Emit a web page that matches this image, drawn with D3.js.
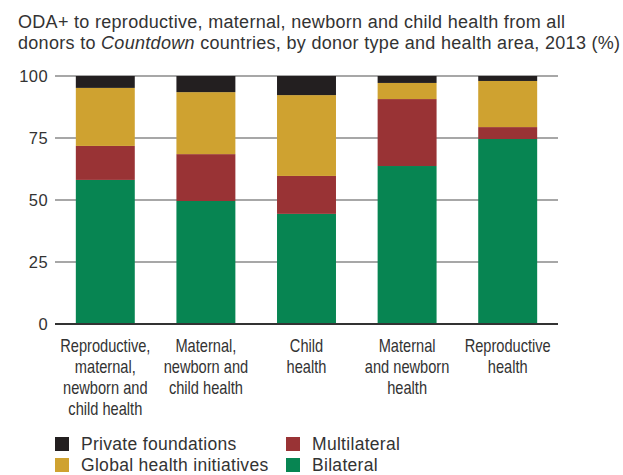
<!DOCTYPE html>
<html><head><meta charset="utf-8">
<script src="https://cdn.jsdelivr.net/npm/d3@7"></script>
<style>body{margin:0;background:#fff}svg{display:block}</style>
</head><body>
<svg id="c" width="623" height="475"></svg>
<script>
const categories = [
  ["Reproductive,","maternal,","newborn and","child health"],
  ["Maternal,","newborn and","child health"],
  ["Child","health"],
  ["Maternal","and newborn","health"],
  ["Reproductive","health"]
];
const bilateral = [58.1, 49.6, 44.4, 63.7, 74.6];
const multilateral = [13.7, 18.9, 15.3, 27.0, 4.8];
const globalHealth = [23.4, 25.0, 32.6, 6.5, 18.6];
const privateFound = [4.8, 6.5, 7.7, 2.8, 2.0];
const yTicks = [0, 25, 50, 75, 100];
const seriesNames = ["Bilateral","Multilateral","Global health initiatives","Private foundations"];
const seriesColors = ["#078552","#993335","#cfa230","#231f20"];

const svg = d3.select("#c");
const font = "'Liberation Sans', Arial, sans-serif";
const txt = "#333";

// title
const title = svg.append("text").attr("fill",txt).attr("font-family",font).attr("font-size",18).attr("letter-spacing",0.3);
title.append("tspan").attr("x",18).attr("y",28).text("ODA+ to reproductive, maternal, newborn and child health from all");
const t2 = title.append("tspan").attr("x",18).attr("y",49);
t2.append("tspan").text("donors to ");
t2.append("tspan").attr("font-style","italic").text("Countdown");
t2.append("tspan").text(" countries, by donor type and health area, 2013 (%)");

const x = d3.scaleBand().domain(d3.range(categories.length)).range([55,558]).paddingInner(0.414).paddingOuter(0.207);
const y = d3.scaleLinear().domain([0,100]).range([324,76]);

// grid
svg.append("g").selectAll("line").data(yTicks.filter(d=>d>0)).join("line")
  .attr("x1",55).attr("x2",558).attr("y1",d=>y(d)).attr("y2",d=>y(d))
  .attr("stroke","#8a8a8a").attr("stroke-width",1.5);

const rows = categories.map((c,i)=>({i, Bilateral:bilateral[i], Multilateral:multilateral[i], "Global health initiatives":globalHealth[i], "Private foundations":privateFound[i]}));
const stack = d3.stack().keys(seriesNames)(rows);
svg.append("g").selectAll("g").data(stack).join("g").attr("fill",(d,i)=>seriesColors[i])
  .selectAll("rect").data(d=>d).join("rect")
  .attr("x",d=>x(d.data.i)).attr("width",x.bandwidth())
  .attr("y",d=>y(Math.min(d[1],100))).attr("height",d=>y(d[0])-y(Math.min(d[1],100)));

// baseline
svg.append("line").attr("x1",55).attr("x2",558).attr("y1",y(0)).attr("y2",y(0)).attr("stroke","#333").attr("stroke-width",2.2);

// y labels
const ya = svg.append("g").attr("transform","translate(55,0)").call(d3.axisLeft(y).tickValues(yTicks).tickSize(0).tickPadding(7));
ya.select(".domain").remove();
ya.selectAll("text").attr("font-family",font).attr("font-size",16.5).attr("letter-spacing",0.4).attr("fill",txt);

// x labels (condensed look)
const xg = svg.append("g");
categories.forEach((lines,i)=>{
  lines.forEach((l,k)=>{
    const t = xg.append("text").attr("text-anchor","middle").attr("font-family",font).attr("font-size",18.5)
      .attr("fill",txt).attr("x",x(i)+x.bandwidth()/2).attr("y",352+k*21).text(l);
    const w = t.node().getComputedTextLength();
    t.attr("textLength",w*0.79).attr("lengthAdjust","spacingAndGlyphs");
  });
});

// legend
const legend = [
  {name:"Private foundations", col:3, px:55, py:437},
  {name:"Multilateral", col:1, px:286, py:437},
  {name:"Global health initiatives", col:2, px:55, py:458},
  {name:"Bilateral", col:0, px:286, py:458}
];
const lg = svg.append("g").selectAll("g").data(legend).join("g");
lg.append("rect").attr("x",d=>d.px).attr("y",d=>d.py).attr("width",14).attr("height",14).attr("fill",d=>seriesColors[d.col]);
lg.append("text").attr("x",d=>d.px+26).attr("y",d=>d.py+13).attr("font-family",font).attr("font-size",17.5).attr("letter-spacing",0.3).attr("fill",txt).text(d=>d.name);
</script>
</body></html>
